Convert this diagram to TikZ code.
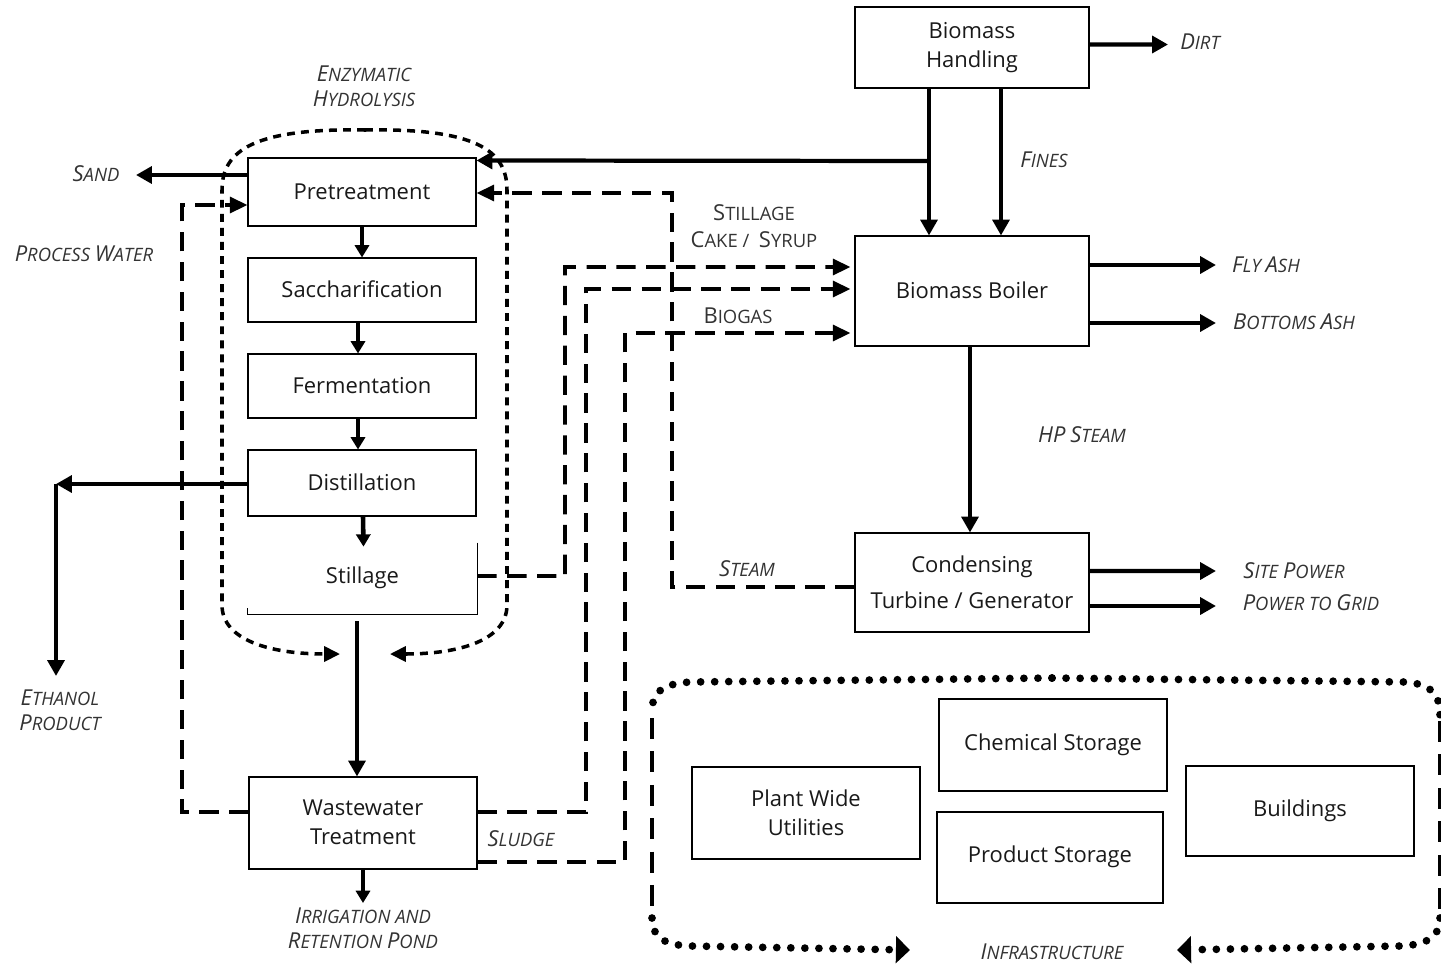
\documentclass[tikz,border=0pt]{standalone}
\usepackage{fontspec}
\setmainfont{Open Sans}
\usetikzlibrary{arrows.meta,calc,fit}
\tikzset{
 txt/.style={inner sep=0pt, align=center, yshift=0.2pt, font=\fontsize{12.5}{16.5}\selectfont, text=black!90},
 box/.style={draw, line width=0.6pt, inner sep=0pt, label={[txt]center:#1}},
 nobox/.style={inner sep=0pt, label={[txt]center:#1}},
 thk/.style={line width=2.4pt},
 thka/.style={thk, -{Triangle[length=9pt,width=9.5pt]}},
 sma/.style={line width=2.6pt, -{Triangle[length=7pt,width=8pt]}},
 dsh/.style={line width=2.1pt, dash pattern=on 11pt off 6pt},
 dsha/.style={dsh, -{Triangle[length=10pt,width=9pt]}},
 enz/.style={line width=2pt, dash pattern=on 4.5pt off 3.5pt, -{Triangle[length=9pt,width=8.5pt]}},
 dotl/.style={line width=4.4pt, dash pattern=on 0pt off 8pt, line cap=round},
 infa/.style={dotl, -{Triangle[length=8pt,width=15pt]}},
 lbl/.style={font=\fontsize{10.5}{14.5}\selectfont\itshape, text=black!80, align=center, inner sep=0pt},
 ulbl/.style={font=\fontsize{10.5}{15.5}\selectfont, text=black!80, align=center, inner sep=0pt}
}
\newcommand\bl[1]{{\fontsize{12.5}{14}\selectfont #1}}
\begin{document}
\begin{tikzpicture}[x=0.02cm,y=-0.02cm]
\useasboundingbox (0,0) rectangle (1441,968);

% boxes
\node[box={Biomass\\Handling}, fit={(855,7)(1089,88)}] (bh) {};
\node[box={Biomass Boiler}, fit={(855,236)(1089,346)}] (bb) {};
\node[box={Condensing\\[4pt]Turbine / Generator}, fit={(855,533)(1089,632)}] (tg) {};
\node[box={Pretreatment}, fit={(248,158)(476,226)}] (pre) {};
\node[box={Saccharification}, fit={(248,258)(476,322)}] (sac) {};
\node[box={Fermentation}, fit={(248,354)(476,418)}] (fer) {};
\node[box={Distillation}, fit={(248,450)(476,516)}] (dis) {};
\node[nobox={Stillage}, fit={(248,543)(477,614)}] (sti) {};
\draw[line width=0.6pt] (sti.north east) -- (sti.south east) -- (sti.south west) -- ++(0,-6);
\node[box={Wastewater\\Treatment}, fit={(249,777)(477,869)}] (ww) {};
\node[box={Plant Wide\\Utilities}, fit={(692,767)(920,859)}] (pwu) {};
\node[box={Chemical Storage}, fit={(939,699)(1167,791)}] (chem) {};
\node[box={Product Storage}, fit={(937,812)(1163,903)}] (prod) {};
\node[box={Buildings}, fit={(1186,766)(1414,856)}] (bld) {};

% free-end coordinates
\coordinate (dirt) at (1168,44.5);
\coordinate (j1) at (929,161);
\coordinate (flyash) at (1216,265);
\coordinate (botash) at (1216,323);
\coordinate (sitep) at (1216,571);
\coordinate (grid) at (1216,606);
\coordinate (sand) at (136,175);
\coordinate (eth) at (56,484);
\coordinate (ethend) at (56,676);
\coordinate (irr) at (363,903);

% labels
\node[lbl] (ldirt) at (1200,42) {\bl{D}IRT};
\node[lbl] (lfines) at (1044,160) {\bl{F}INES};
\node[lbl] (lfly) at (1266,265) {\bl{F}LY \bl{A}SH};
\node[lbl] (lbot) at (1294,322) {\bl{B}OTTOMS \bl{A}SH};
\node[lbl] (lhp) at (1082,435) {\bl{HP} \bl{S}TEAM};
\node[lbl] (lsite) at (1294,571) {\bl{S}ITE \bl{P}OWER};
\node[lbl] (lgrid) at (1311,603) {\bl{P}OWER TO \bl{G}RID};
\node[lbl] (lsteam) at (747,569) {\bl{S}TEAM};
\node[ulbl] (lcake) at (754,226) {\bl{S}TILLAGE\\\bl{C}AKE /\ \ \bl{S}YRUP};
\node[ulbl] (lbiogas) at (738,316) {\bl{B}IOGAS};
\node[lbl] (lsludge) at (521,839) {\bl{S}LUDGE};
\node[lbl] (lsand) at (96,174) {\bl{S}AND};
\node[lbl] (lpw) at (84,254) {\bl{P}ROCESS \bl{W}ATER};
\node[lbl] (leth) at (60,710) {\bl{E}THANOL\\\bl{P}RODUCT};
\node[lbl] (lenz) at (364,86) {\bl{E}NZYMATIC\\\bl{H}YDROLYSIS};
\node[lbl] (lirr) at (363,928) {\bl{I}RRIGATION AND\\\bl{R}ETENTION \bl{P}OND};
\node[lbl] (linf) at (1052,952) {\bl{I}NFRASTRUCTURE};

% solid connectors
\draw[thka] ($(bh.east)+(0,-3)$) -- (dirt);
\draw[thka] ($(bh.south)+(-43,0)$) -- ($(bb.north)+(-43,0)$);
\draw[thka] ($(bh.south)+(29,0)$) -- ($(bb.north)+(29,0)$);
\draw[thka] (j1) -- ($(pre.north east)+(0,3)$);
\draw[thka] ($(bb.east)+(0,-26)$) -- (flyash);
\draw[thka] ($(bb.east)+(0,32)$) -- (botash);
\draw[thka] ($(bb.south)+(-2,0)$) -- ($(tg.north)+(-2,0)$);
\draw[thka] ($(tg.east)+(0,-11.5)$) -- (sitep);
\draw[thka] ($(tg.east)+(0,23.5)$) -- (grid);

\draw[sma] (pre.south) -- (sac.north);
\draw[sma] ($(sac.south)+(-4,0)$) -- ($(fer.north)+(-4,0)$);
\draw[sma] ($(fer.south)+(-4,0)$) -- ($(dis.north)+(-4,0)$);
\draw[sma] ($(dis.south)+(1,0)$) -- ($(sti.north)+(1,4)$);
\draw[thka] ($(sti.south)+(-5.5,7)$) -- ($(ww.north)+(-6,0)$);
\draw[sma] (ww.south) -- (irr);

\draw[thka] ($(pre.west)+(0,-17)$) -- (sand);
\draw[thka] (eth) -- (ethend);
\draw[thka] ($(dis.west)+(0,1)$) -- (eth);

% dashed connectors
\draw[dsha] ($(tg.west)+(0,4.5)$) -- (672,587) -- (672,193) -- ($(pre.east)+(0,1)$);
\draw[dsha] ($(ww.west)+(0,-11)$) -- (182,812) -- (182,205) -- ($(pre.west)+(0,13)$);
\draw[dsha] ($(sti.east)+(0,-2.5)$) -- (565,576) -- (565,267) -- ($(bb.west)+(-4,-24)$);
\draw[dsha] ($(ww.east)+(0,-11)$) -- (586,812) -- (586,289) -- ($(bb.west)+(-4,-2)$);
\draw[dsha] ($(ww.east)+(0,39)$) -- (625,862) -- (625,333) -- ($(bb.west)+(-4,42)$);

% enzymatic hydrolysis loop
\draw[enz] (365,130) .. controls (255,128) and (222,150) .. (222,190) -- (222,605) .. controls (222,640) and (270,654) .. (340,654);
\draw[enz] (365,130) .. controls (475,128) and (507,150) .. (507,190) -- (507,605) .. controls (507,640) and (460,654) .. (390,654);

% infrastructure loop
\draw[dotl] (1052,678) -- (690,682) .. controls (662,684) and (652,692) .. (652,712);
\draw[line width=2.1pt, dash pattern=on 12pt off 7pt] (652,718) -- (652,912);
\draw[infa] (652,918) .. controls (652,938) and (665,945) .. (690,946) -- (910,950);
\draw[dotl] (1052,678) -- (1405,682) .. controls (1432,684) and (1440,695) .. (1440,715);
\draw[line width=2.1pt, dash pattern=on 12pt off 7pt] (1440,721) -- (1440,912);
\draw[infa] (1440,918) .. controls (1440,938) and (1425,945) .. (1400,946) -- (1177,950);
\end{tikzpicture}
\end{document}
